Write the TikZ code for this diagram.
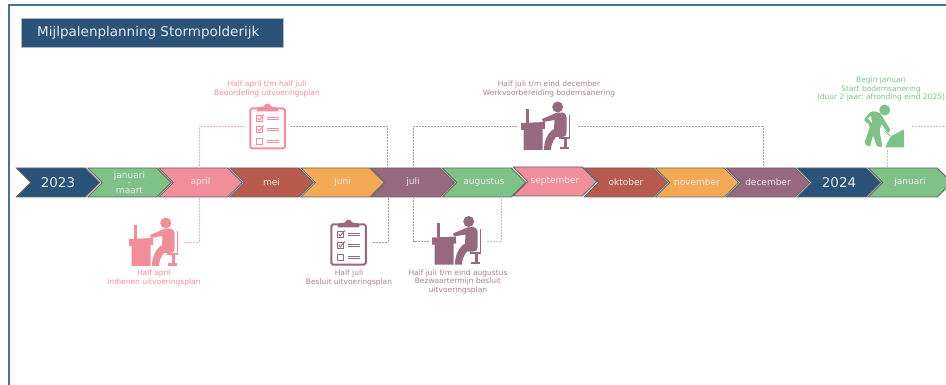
\documentclass[tikz,border=0pt]{standalone}
\usepackage{fontspec}
\setmainfont{DejaVu Sans}
\usetikzlibrary{shapes}
\definecolor{navyc}{HTML}{2B5278}
\definecolor{greenc}{HTML}{7FC287}
\definecolor{pinkc}{HTML}{F28E9A}
\definecolor{redc}{HTML}{B85A4E}
\definecolor{orangec}{HTML}{F4A957}
\definecolor{mauvec}{HTML}{97697E}
\definecolor{framec}{HTML}{4A6F9A}
\tikzset{
  deskicon/.pic={
    \begin{scope}[shift={(-25,-24.5)}]
      \fill (36.7,5) circle (5.5);
      \fill (5,6.7) rectangle (7.5,21);
      \fill (0,21) -- (24,20) -- (24,27) -- (21.5,27) -- (21.5,48) -- (2.5,48) -- (2.5,28) -- (0,28) -- cycle;
      \fill (21,17) -- (35,11) .. controls (40,10) and (45,10) .. (45.5,15) -- (45.5,31)
        .. controls (45.5,34) and (44,35) .. (41,35) -- (35,35) .. controls (31,40) and (30,44) .. (30,48)
        -- (23,48) .. controls (23,40) and (26,31) .. (33,27) -- (33.5,18) -- (22,20) -- cycle;
      \fill (47.5,12.7) rectangle (49,35);
      \fill (38,35) rectangle (49,37);
      \fill (42.5,37) rectangle (45.5,45);
      \fill (38.5,45) rectangle (48,47.5);
    \end{scope}
  },
  clipicon/.pic={
    \begin{scope}[shift={(-18.25,-23)}]
      \draw[line width=2pt,rounded corners=1.5pt] (1,5) rectangle (35.5,45);
      \fill[rounded corners=1pt] (7,8) -- (8,4) -- (15,3) .. controls (16,-0.5) and (20.5,-0.5) .. (21.5,3) -- (28.5,4) -- (29.5,8) -- cycle;
      \foreach \rowy in {15,26,38} {
        \draw[line width=1pt] (7,\rowy-3) rectangle (13,\rowy+3);
        \draw[line width=.8pt] (18,\rowy-1.2) -- (30,\rowy-1.2) (18,\rowy+1.2) -- (30,\rowy+1.2);
      }
      \foreach \rowy in {15,26} \draw[line width=1pt] (8.5,\rowy-.5) -- (10,\rowy+1.5) -- (14.5,\rowy-4);
    \end{scope}
  },
  digicon/.pic={
    \begin{scope}[shift={(-21,-21.5)}]
      \fill (21.7,5) circle (5.5);
      \fill[rounded corners=2pt] (8,6) -- (16,7) -- (19,11) -- (28,26) -- (25,28.5) -- (18.5,18.5) -- (16.5,26) -- (19.5,42) -- (14,42) -- (10,30) -- (7,42) -- (1,39) -- (6,25) -- (7,20) -- (0.5,15) -- cycle;
      \fill[white] (5,13.5) -- (8,11) -- (9,18) -- cycle;
      \draw[line width=.9pt] (22,26) -- (27,31);
      \fill (22,42.5) -- (28,31) -- (41,24.5) -- (41,42.5) -- cycle;
    \end{scope}
  }
}
\begin{document}
\begin{tikzpicture}[x=1pt,y=-1pt]
  \tikzstyle{chev}=[signal,signal to=east,signal from=west,signal pointer angle=90,draw=black!60,line width=.8pt,
    minimum width=83.5pt,minimum height=29pt,inner sep=0pt,text=white!92!black,align=center,font=\fontsize{9}{7.5}\selectfont]
  \tikzstyle{yearchev}=[chev,font=\fontsize{13.4}{15}\selectfont]
  \tikzstyle{clipbox}=[minimum width=44pt,minimum height=46pt,inner sep=0pt]
  \tikzstyle{deskbox}=[minimum width=58pt,minimum height=50pt,inner sep=0pt]
  \tikzstyle{digbox}=[minimum width=56pt,minimum height=46pt,inner sep=0pt]
  \tikzstyle{lbl}=[align=center,inner sep=0pt,font=\fontsize{7.5}{8.5}\selectfont]
  \tikzstyle{link}=[line width=.6pt,dash pattern=on 2pt off 1pt]
  \useasboundingbox (0,0) rectangle (946,385);
  \clip (0,0) rectangle (946,385);

  \draw[framec,line width=2pt] (946,5.5) -- (8.5,5.5) -- (8.5,385);
  \node[fill=navyc,draw=navyc!40,line width=.4pt,minimum width=262pt,minimum height=28.5pt,inner sep=0pt] (title) at (152,32.8) {};
  \node[text=white!88!navyc,anchor=west,inner sep=0pt,font=\fontsize{13.5}{15}\selectfont] (titletext) at (37,32.5) {Mijlpalenplanning Stormpolderijk};

  % timeline
  \node[yearchev,fill=navyc] (y2023) at (58,182.5) {2023};
  \node[chev,fill=greenc] (janmrt) at (129.5,182.5) {januari\\-\\maart};
  \node[chev,fill=pinkc] (april) at (200.5,182.5) {april};
  \node[chev,fill=redc] (mei) at (271.5,182.5) {mei};
  \node[chev,fill=orangec] (juni) at (342.5,182.5) {juni};
  \node[chev,fill=mauvec] (juli) at (413,182.5) {juli};
  \node[chev,fill=greenc] (augustus) at (484,182.5) {augustus};
  \node[chev,fill=pinkc] (september) at (555,181.5) {september};
  \node[chev,fill=redc] (oktober) at (626,182.5) {oktober};
  \node[chev,fill=orangec] (november) at (697,182.5) {november};
  \node[chev,fill=mauvec] (december) at (768,182.5) {december};
  \node[yearchev,fill=navyc] (y2024) at (839,182.5) {2024};
  \node[chev,fill=greenc] (januari) at (910,182.5) {januari};

  % icons
  \node[clipbox] (beoordeling) at (267.5,126.5) {};
  \pic[color=pinkc] at (beoordeling) {clipicon};
  \node[deskbox] (indienen) at (155,242.5) {};
  \pic[color=pinkc] at (154,242.5) {deskicon};
  \node[clipbox] (besluit) at (351,242.5) {};
  \pic[color=mauvec] at (348.5,242.5) {clipicon};
  \node[deskbox] (bezwaar) at (458,241) {};
  \pic[color=mauvec] at (457,241) {deskicon};
  \node[deskbox,minimum width=61pt] (werkvoorb) at (547.5,126.5) {};
  \pic[color=mauvec] at (546,126.5) {deskicon};
  \node[digbox] (sanering) at (884,127) {};
  \pic[color=greenc] at (884,126.5) {digicon};

  % connectors
  \draw[link,pinkc!70!white] (beoordeling.west) -| ([xshift=-1.5pt]april.north);
  \draw[link,mauvec!70!white] (beoordeling.east) -| ([xshift=-26pt]juli.north);
  \draw[link,pinkc!70!white] (indienen.east) -| ([xshift=-1.5pt]april.south);
  \draw[link,mauvec!70!white] (besluit.east) -| ([xshift=-25pt]juli.south);
  \draw[link,mauvec!70!white] (bezwaar.west) -| ([xshift=.5pt]juli.south);
  \draw[link,greenc!70!white] (bezwaar.east) -| ([xshift=17pt]augustus.south);
  \draw[link,mauvec!70!white] (werkvoorb.west) -| ([xshift=.5pt]juli.north);
  \draw[link,mauvec!70!white] (werkvoorb.east) -| ([xshift=-5pt]december.north);
  \draw[link,greenc!70!white] ([xshift=3pt]sanering.south) -- ([xshift=-23pt]januari.north);
  \coordinate (rand) at (946,126.5);
  \draw[link,greenc!70!white] (sanering.east |- rand) -- (rand);

  % labels
  \node[lbl,text=pinkc] (lblbeoordeling) at (267,89) {Half april t/m half juli\\Beoordeling uitvoeringsplan};
  \node[lbl,text=pinkc] (lblindienen) at (154,278) {Half april\\indienen uitvoeringsplan};
  \node[lbl,text=mauvec!85!white] (lblbesluit) at (349,278) {Half juli\\Besluit uitvoeringsplan};
  \node[lbl,text=mauvec!85!white] (lblbezwaar) at (458,281.5) {Half juli t/m eind augustus\\Bezwaartermijn besluit\\uitvoeringsplan};
  \node[lbl,text=mauvec!85!white] (lblwerkvoorb) at (549,89) {Half juli t/m eind december\\Werkvoorbereiding bodemsanering};
  \node[lbl,text=greenc] (lblsanering) at (881,89) {Begin januari\\Start bodemsanering\\(duur 2 jaar; afronding eind 2025)};
\end{tikzpicture}
\end{document}
